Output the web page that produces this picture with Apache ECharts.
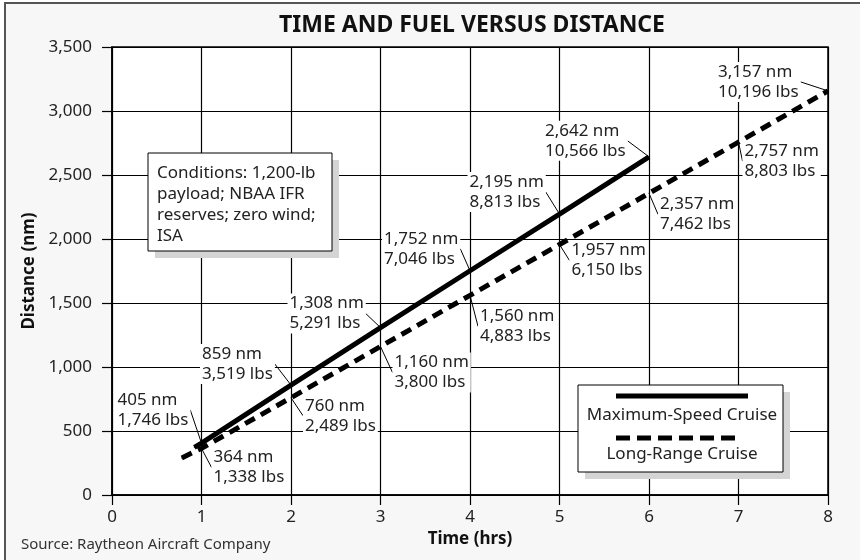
<!DOCTYPE html>
<html>
<head>
<meta charset="utf-8">
<title>Time and Fuel versus Distance</title>
<script src="https://cdn.jsdelivr.net/npm/echarts@6/dist/echarts.min.js"></script>
<style>
  html, body { margin: 0; padding: 0; background: #fff; }
</style>
</head>
<body>
<div id="main" style="width:860px;height:560px;"></div>
<script type="text/javascript">
// maximum-speed cruise (solid)
var msTime = [1, 2, 3, 4, 5, 6];
var msDist = [405, 859, 1308, 1752, 2195, 2642];
var msFuel = [1746, 3519, 5291, 7046, 8813, 10566];
var msStart = [0.92, 372];   // line begins a little before the first label

// long-range cruise (dashed)
var lrTime = [1, 2, 3, 4, 5, 6, 7, 8];
var lrDist = [364, 760, 1160, 1560, 1957, 2357, 2757, 3157];
var lrFuel = [1338, 2489, 3800, 4883, 6150, 7462, 8803, 10196];
var lrStart = [0.78, 290];

var xTicks = { min: 0, max: 8, step: 1 };
var yTicks = { min: 0, max: 3500, step: 500 };

// label placement: offset of the text block's top-left from the point (px)
var msLabelOffset = [[-84, -53], [-89, -41], [-91, -34], [-86, -42], [-90, -42], [-104, -36]];
var lrLabelOffset = [[12, -1], [14, -2], [14, 6], [10, 11], [12, -4], [11, 1], [6, -1], [-110, -29]];

var FONT = 'Noto Sans';
var fmt = function (v) { return v.toLocaleString('en-US'); };

function buildData(start, times, dists) {
    var out = [{ value: start, label: { show: false }, labelLine: { show: false } }];
    for (var i = 0; i < times.length; i++) out.push({ value: [times[i], dists[i]] });
    return out;
}

function makeLayout(offsets) {
    return function (p) {
        var o = offsets[p.dataIndex - 1];
        if (!o) return {};
        var cx = p.rect.x + p.rect.width / 2;
        var cy = p.rect.y + p.rect.height / 2;
        var x = cx + o[0] - 2, y = cy + o[1];
        var w = p.labelRect.width, h = p.labelRect.height;
        // leader from the label corner closest to the point
        var corners = [[x, y], [x + w, y], [x, y + h], [x + w, y + h]];
        var best = corners[0], bd = Infinity;
        corners.forEach(function (c) {
            var d = (c[0] - cx) * (c[0] - cx) + (c[1] - cy) * (c[1] - cy);
            if (d < bd) { bd = d; best = c; }
        });
        var mid = [(best[0] + cx) / 2, (best[1] + cy) / 2];
        return {
            x: x, y: y, align: 'left', verticalAlign: 'top',
            labelLinePoints: [best, mid, [cx, cy]]
        };
    };
}

function labelOpt(dists, fuels) {
    return {
        show: true,
        formatter: function (p) {
            var i = p.dataIndex - 1;
            if (i < 0) return '';
            return fmt(dists[i]) + ' nm\n' + fmt(fuels[i]) + ' lbs';
        },
        color: '#222',
        fontFamily: FONT,
        fontSize: 17,
        lineHeight: 20,
        backgroundColor: '#fff',
        padding: [0, 2]
    };
}

var myChart = echarts.init(document.getElementById('main'));

var option = {
    animation: false,
    backgroundColor: '#fff',
    grid: {
        left: 112, right: 32, top: 47, bottom: 65,
        show: true, backgroundColor: '#fff', borderColor: '#000', borderWidth: 1.5
    },
    xAxis: {
        type: 'value',
        min: xTicks.min, max: xTicks.max, interval: xTicks.step,
        name: 'Time (hrs)', nameLocation: 'middle', nameGap: 33,
        nameTextStyle: { fontFamily: FONT, fontSize: 17, fontWeight: 'bold', color: '#111' },
        axisLine: { show: true, lineStyle: { color: '#000', width: 1.5 } },
        axisTick: { show: true, length: 10, lineStyle: { color: '#000', width: 1.2 } },
        axisLabel: { margin: 14, fontFamily: FONT, fontSize: 17, color: '#222' },
        splitLine: { show: true, lineStyle: { color: '#000', width: 1.2 } }
    },
    yAxis: {
        type: 'value',
        min: yTicks.min, max: yTicks.max, interval: yTicks.step,
        name: 'Distance (nm)', nameLocation: 'middle', nameGap: 72,
        nameTextStyle: { fontFamily: FONT, fontSize: 17, fontWeight: 'bold', color: '#111' },
        axisLine: { show: true, lineStyle: { color: '#000', width: 1.5 } },
        axisTick: { show: true, length: 10, lineStyle: { color: '#000', width: 1.2 } },
        axisLabel: { margin: 20, fontFamily: FONT, fontSize: 17, color: '#222', formatter: function (v) { return fmt(v); } },
        splitLine: { show: true, lineStyle: { color: '#000', width: 1.2 } }
    },
    series: [
        {
            name: 'Maximum-Speed Cruise',
            type: 'line',
            data: buildData(msStart, msTime, msDist),
            symbol: 'circle', symbolSize: 1, showSymbol: true,
            itemStyle: { color: '#000' },
            lineStyle: { color: '#000', width: 5 },
            label: labelOpt(msDist, msFuel),
            labelLine: { show: true, lineStyle: { color: '#000', width: 1 } },
            labelLayout: makeLayout(msLabelOffset),
            z: 3
        },
        {
            name: 'Long-Range Cruise',
            type: 'line',
            data: buildData(lrStart, lrTime, lrDist),
            symbol: 'circle', symbolSize: 1, showSymbol: true,
            itemStyle: { color: '#000' },
            lineStyle: { color: '#000', width: 5, type: [11, 7] },
            label: labelOpt(lrDist, lrFuel),
            labelLine: { show: true, lineStyle: { color: '#000', width: 1 } },
            labelLayout: makeLayout(lrLabelOffset),
            z: 3
        }
    ],
    graphic: [
        // outer frame
        { type: 'rect', z: -10, shape: { x: 5, y: 3, width: 880, height: 580 },
          style: { fill: '#f7f7f7', stroke: '#555', lineWidth: 2 } },
        { type: 'text', z: 10,
          style: { text: 'TIME AND FUEL VERSUS DISTANCE', x: 472, y: 25, align: 'center', verticalAlign: 'middle',
                   font: 'bold 23px "Noto Sans"', fill: '#111' } },
        { type: 'text', z: 10,
          style: { text: 'Source: Raytheon Aircraft Company', x: 21, y: 545, verticalAlign: 'middle',
                   font: '15px "Noto Sans"', fill: '#333' } },
        // conditions note
        { type: 'rect', z: 20, shape: { x: 155, y: 160, width: 184, height: 98 }, style: { fill: '#d4d4d4' } },
        { type: 'rect', z: 21, shape: { x: 148, y: 153, width: 184, height: 98 },
          style: { fill: '#fff', stroke: '#000', lineWidth: 1 } },
        { type: 'text', z: 22,
          style: { text: 'Conditions: 1,200-lb\npayload; NBAA IFR\nreserves; zero wind;\nISA',
                   x: 157, y: 163, lineHeight: 21, font: '17px "Noto Sans"', fill: '#222' } },
        // legend
        { type: 'rect', z: 20, shape: { x: 585, y: 392, width: 205, height: 87 }, style: { fill: '#d4d4d4' } },
        { type: 'rect', z: 21, shape: { x: 578, y: 385, width: 205, height: 87 },
          style: { fill: '#fff', stroke: '#000', lineWidth: 1 } },
        { type: 'line', z: 22, shape: { x1: 616, y1: 396, x2: 748, y2: 396 },
          style: { stroke: '#000', lineWidth: 5 } },
        { type: 'text', z: 22,
          style: { text: 'Maximum-Speed Cruise', x: 682, y: 415, align: 'center', verticalAlign: 'middle',
                   font: '17px "Noto Sans"', fill: '#222' } },
        { type: 'line', z: 22, shape: { x1: 616, y1: 438, x2: 740, y2: 438 },
          style: { stroke: '#000', lineWidth: 5, lineDash: [14, 7] } },
        { type: 'text', z: 22,
          style: { text: 'Long-Range Cruise', x: 682, y: 454, align: 'center', verticalAlign: 'middle',
                   font: '17px "Noto Sans"', fill: '#222' } }
    ]
};

myChart.setOption(option);
</script>
</body>
</html>
